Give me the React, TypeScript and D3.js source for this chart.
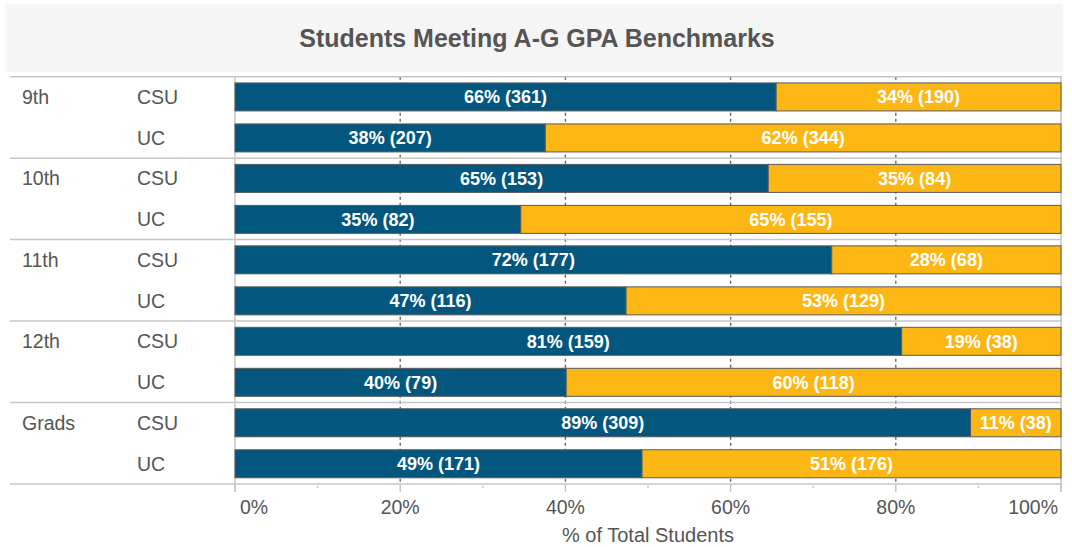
import React from 'react';
import * as d3 from 'd3';

const groups = ['9th', '10th', '11th', '12th', 'Grads'];
const benchmarks = ['CSU', 'UC'];
// counts of students meeting / not meeting, per group x benchmark (CSU, UC)
const metCounts = [361, 207, 153, 82, 177, 116, 159, 79, 309, 171];
const notMetCounts = [190, 344, 84, 155, 68, 129, 38, 118, 38, 176];
const xTicks = [0, 0.2, 0.4, 0.6, 0.8, 1];
const minorTicks = [0.1, 0.3, 0.5, 0.7, 0.9];
const title = 'Students Meeting A-G GPA Benchmarks';
const xTitle = '% of Total Students';

const W = 1072;
const H = 547;
const NAVY = '#03577F';
const GOLD = '#FDB714';
const TXT = '#555555';
const FONT = '"Liberation Sans", Arial, sans-serif';

export default function App() {
  const x = d3.scaleLinear().domain([0, 1]).range([235, 1061]);
  const yG = d3.scaleBand<string>().domain(groups).range([76.7, 484]);
  const yS = d3
    .scaleBand<string>()
    .domain(benchmarks)
    .range([0, yG.bandwidth()])
    .paddingInner(0.317)
    .paddingOuter(0.152);
  const fmt = d3.format('.0%');

  const rows = groups.flatMap((g, gi) =>
    benchmarks.map((b, bi) => {
      const i = gi * 2 + bi;
      const met = metCounts[i];
      const not = notMetCounts[i];
      const total = met + not;
      return { g, b, met, not, p: met / total, q: not / total, y: (yG(g) as number) + (yS(b) as number) };
    })
  );
  const bh = yS.bandwidth();
  const top = yG.range()[0];
  const bottom = yG.range()[1];

  return (
    <svg width={W} height={H} style={{ position: 'absolute', left: 0, top: 0, background: '#fff' }} fontFamily={FONT}>
      {/* title band */}
      <rect x={5} y={4} width={1058} height={68} fill="#F5F5F5" />
      <text x={537} y={47} textAnchor="middle" fontSize={25} fontWeight="bold" fill={TXT}>
        {title}
      </text>

      {/* gridlines */}
      {xTicks.slice(1, -1).map((t) => (
        <line key={'g' + t} x1={x(t)} x2={x(t)} y1={top} y2={bottom} stroke="#666" strokeWidth={1.4} strokeDasharray="3,3" />
      ))}

      {/* separators */}
      {groups.map((g) => (
        <line key={'s' + g} x1={10} x2={1062} y1={yG(g)} y2={yG(g)} stroke="#C6C6C6" strokeWidth={1.5} />
      ))}
      <line x1={10} x2={1062} y1={bottom} y2={bottom} stroke="#C6C6C6" strokeWidth={1.5} />
      <line x1={x(0)} x2={x(0)} y1={top} y2={bottom + 8} stroke="#C6C6C6" strokeWidth={1.5} />
      <line x1={x(1)} x2={x(1)} y1={top} y2={bottom + 8} stroke="#C6C6C6" strokeWidth={1.5} />

      {/* bars */}
      {rows.map((r) => (
        <g key={r.g + r.b}>
          <rect x={x(0)} y={r.y} width={x(r.p) - x(0)} height={bh} fill={NAVY} stroke="#5A5A5A" strokeWidth={1} />
          <rect x={x(r.p)} y={r.y} width={x(1) - x(r.p)} height={bh} fill={GOLD} stroke="#5A5A5A" strokeWidth={1} />
          <text x={(x(0) + x(r.p)) / 2} y={r.y + bh / 2 + 6.5} textAnchor="middle" fontSize={18} fontWeight="bold" fill="#fff">
            {`${fmt(r.p)} (${r.met})`}
          </text>
          <text x={(x(r.p) + x(1)) / 2} y={r.y + bh / 2 + 6.5} textAnchor="middle" fontSize={18} fontWeight="bold" fill="#fff">
            {`${fmt(r.q)} (${r.not})`}
          </text>
          <text x={137} y={r.y + bh / 2 + 7} fontSize={19.5} fill={TXT}>
            {r.b}
          </text>
        </g>
      ))}

      {/* group labels */}
      {groups.map((g) => (
        <text key={'l' + g} x={22} y={(yG(g) as number) + (yS('CSU') as number) + bh / 2 + 7} fontSize={19.5} fill={TXT}>
          {g}
        </text>
      ))}

      {/* axis ticks */}
      {xTicks.map((t) => (
        <line key={'t' + t} x1={x(t)} x2={x(t)} y1={bottom} y2={bottom + 8} stroke="#C6C6C6" strokeWidth={1.5} />
      ))}
      {minorTicks.map((t) => (
        <line key={'m' + t} x1={x(t)} x2={x(t)} y1={bottom + 2} y2={bottom + 4} stroke="#C6C6C6" strokeWidth={1.5} />
      ))}
      {xTicks.map((t, i) => (
        <text
          key={'tl' + t}
          x={i === 0 ? x(t) + 5 : i === xTicks.length - 1 ? x(t) - 3 : x(t)}
          y={514}
          textAnchor={i === 0 ? 'start' : i === xTicks.length - 1 ? 'end' : 'middle'}
          fontSize={19.5}
          fill={TXT}
        >
          {fmt(t)}
        </text>
      ))}
      <text x={648} y={542} textAnchor="middle" fontSize={20} fill={TXT}>
        {xTitle}
      </text>
    </svg>
  );
}
